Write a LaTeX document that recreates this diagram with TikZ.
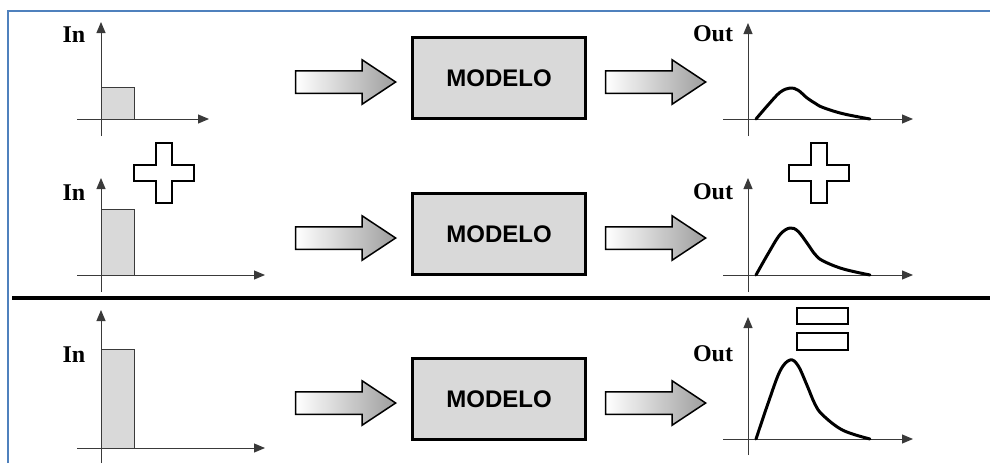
\documentclass[tikz,border=0pt]{standalone}
\usepackage{fontspec}
\setmainfont{Liberation Serif}
\newfontfamily\boxfont{Liberation Sans}
\usetikzlibrary{shapes.arrows,arrows.meta}

\definecolor{frameblue}{HTML}{4F81BD}
\definecolor{boxgray}{HTML}{D9D9D9}
\definecolor{axisgray}{HTML}{3A3A3A}

\tikzset{
  modelbox/.style={draw, line width=3pt, fill=boxgray, minimum width=173pt,
    minimum height=81pt, inner sep=0pt,
    font=\boxfont\fontsize{24}{28}\selectfont\bfseries},
  flowarrow/.style={single arrow, draw, line width=1.5pt, minimum height=100pt,
    minimum width=0pt, single arrow head extend=11pt, single arrow tip angle=67,
    single arrow head indent=0pt, inner xsep=0pt, inner ysep=10.5pt,
    text height=0pt, text depth=0pt, text width=0pt, anchor=tip,
    left color=white, right color=black!38},
  axis/.style={draw=axisgray, line width=1pt, -{Triangle[length=11pt,width=9pt]}},
  pulse/.style={draw=axisgray, line width=0.8pt, fill=boxgray},
  lbl/.style={font=\fontsize{24}{28}\selectfont\bfseries, inner sep=0pt},
  resp/.style={line width=3pt, line cap=round, line join=round},
  sym/.style={draw, line width=2pt, fill=white, line join=miter}
}

% response curve: base line y, peak height, shoulder fraction, tail fraction
\newcommand\respcurve[4]{%
  \draw[resp] plot[smooth, tension=0.6] coordinates {
    (756,{#1}) (768,{#1-0.45*#2}) (780,{#1-0.86*#2}) (790,{#1-#2})
    (798,{#1-0.93*#2}) (807,{#1-0.68*#2}) (815,{#1-(#3+0.14)*#2})
    (823,{#1-#3*#2}) (843,{#1-#4*#2}) (870,{#1})};}

% outlined plus sign centred at (#1,#2)
\newcommand\plussign[2]{%
  \draw[sym] ({#1-8},{#2-30}) -- ({#1+8},{#2-30}) -- ({#1+8},{#2-8})
    -- ({#1+30},{#2-8}) -- ({#1+30},{#2+8}) -- ({#1+8},{#2+8})
    -- ({#1+8},{#2+30}) -- ({#1-8},{#2+30}) -- ({#1-8},{#2+8})
    -- ({#1-30},{#2+8}) -- ({#1-30},{#2-8}) -- ({#1-8},{#2-8}) -- cycle;}

\begin{document}
\begin{tikzpicture}[x=1pt, y=-1pt]
\useasboundingbox (0,0) rectangle (990,463);

% frame and separator
\draw[frameblue, line width=2.5pt] (8,463) -- (8,11) -- (990,11);
\draw[line width=4pt] (12,298) -- (990,298);

% ---------- row 1 ----------
\draw[pulse] (101,119) rectangle (134,87);
\draw[axis] (77,119) -- (209,119);
\draw[axis] (101,136) -- (101,22);
\node[lbl] (in1) at (74,35) {In};
\node[flowarrow] (a1) at (397,82) {};
\node[modelbox] (m1) at (499,78) {MODELO};
\node[flowarrow] (b1) at (707,82) {};
\draw[axis] (723,119) -- (913,119);
\draw[axis] (748,136) -- (748,23);
\node[lbl] (out1) at (713,34) {Out};
\respcurve{119}{31}{0.37}{0.17}

% ---------- row 2 ----------
\plussign{163.5}{172.5}
\draw[pulse] (101,275) rectangle (134,209);
\draw[axis] (77,275) -- (265,275);
\draw[axis] (101,292) -- (101,178);
\node[lbl] (in2) at (74,193) {In};
\node[flowarrow] (a2) at (397,238) {};
\node[modelbox] (m2) at (499,234) {MODELO};
\node[flowarrow] (b2) at (707,238) {};
\draw[axis] (723,275) -- (913,275);
\draw[axis] (748,292) -- (748,178);
\node[lbl] (out2) at (713,192) {Out};
\respcurve{275}{47}{0.3}{0.13}
\plussign{818.5}{172.5}

% ---------- row 3 (sum) ----------
\draw[pulse] (101,448) rectangle (134,349);
\draw[axis] (77,448) -- (265,448);
\draw[axis] (101,463) -- (101,310);
\node[lbl] (in3) at (74,355) {In};
\node[flowarrow] (a3) at (397,403) {};
\node[modelbox] (m3) at (499,399) {MODELO};
\node[flowarrow] (b3) at (707,403) {};
\draw[axis] (723,439) -- (913,439);
\draw[axis] (748,455) -- (748,317);
\node[lbl] (out3) at (713,354) {Out};
\respcurve{439}{79}{0.3}{0.11}
\draw[sym] (797,308) rectangle (848,324);
\draw[sym] (797,333) rectangle (848,350);
\end{tikzpicture}
\end{document}
